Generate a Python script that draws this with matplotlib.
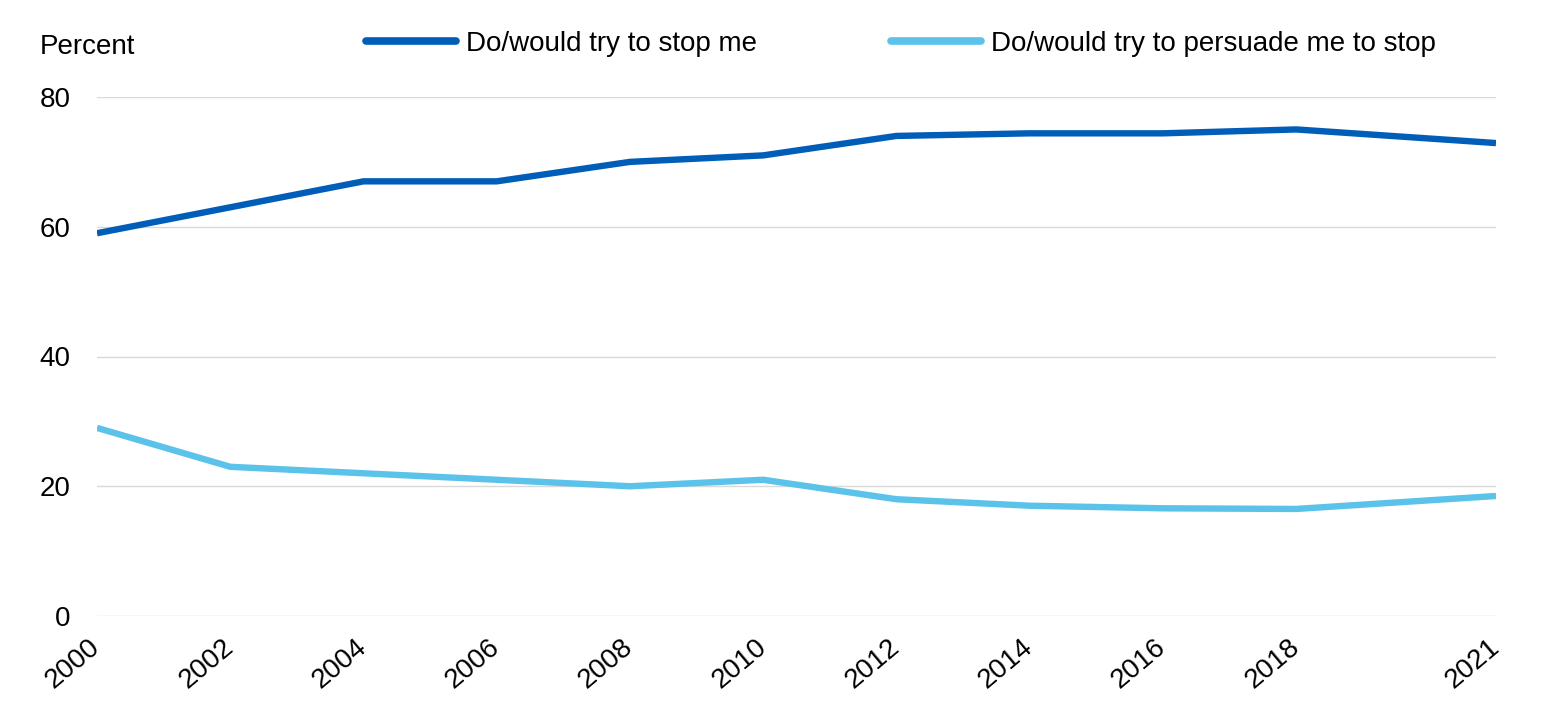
import matplotlib
matplotlib.use("Agg")
import matplotlib.pyplot as plt

# ── data --------------------------------------------------------------------- #
years = [2000, 2002, 2004, 2006, 2008, 2010, 2012, 2014, 2016, 2018, 2021]
stop_me = [59, 63, 67, 67, 70, 71, 74, 74.4, 74.4, 75, 72.9]
persuade_me = [29, 23, 22, 21, 20, 21, 18, 17, 16.6, 16.5, 18.5]
yticks = [0, 20, 40, 60, 80]

plt.rcParams["font.family"] = ["Liberation Sans", "DejaVu Sans"]
FS = 20

fig = plt.figure(figsize=(15.59, 7.16), dpi=100)
ax = fig.add_axes([97 / 1559, 1 - 616 / 716, (1496 - 97) / 1559, (616 - 97) / 716])

ax.plot(years, stop_me, color="#005EB8", lw=4.6, solid_capstyle="butt",
        label="Do/would try to stop me")
ax.plot(years, persuade_me, color="#5BC2EA", lw=4.6, solid_capstyle="butt",
        label="Do/would try to persuade me to stop")

ax.set_xlim(2000, 2021)
ax.set_ylim(0, 80)
ax.set_yticks(yticks)
ax.set_xticks(years)
ax.set_xticklabels([str(y) for y in years], rotation=40, ha="right",
                   va="center", rotation_mode="anchor")
ax.tick_params(axis="both", length=0, labelsize=FS)
ax.tick_params(axis="y", pad=19)
ax.tick_params(axis="x", pad=20)

ax.grid(axis="y", color="#D9D9D9", lw=1)
ax.set_axisbelow(True)
for s in ax.spines.values():
    s.set_visible(False)

fig.text(40 / 1559, 1 - 47 / 716, "Percent", fontsize=FS, va="center")

leg = fig.legend(loc="center", bbox_to_anchor=(901 / 1559, 1 - 44 / 716), ncol=2,
                 frameon=False, fontsize=FS, handlelength=3.25, handletextpad=0.36,
                 columnspacing=4.8)
for h in leg.get_lines():
    h.set_linewidth(5.5)
    h.set_solid_capstyle("round")

fig.savefig("out.png", dpi=100)
